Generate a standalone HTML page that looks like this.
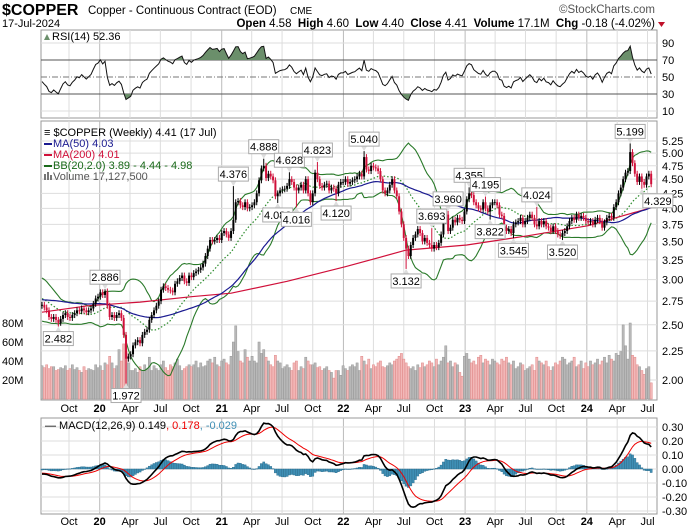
<!DOCTYPE html>
<html><head><meta charset="utf-8"><style>
body{margin:0;background:#fff;}
svg{display:block;font-family:"Liberation Sans",Arial,sans-serif;}
</style></head><body>
<svg id="c" width="700" height="530" xmlns="http://www.w3.org/2000/svg"></svg>
<script>
const preCloses=[2.80,2.78,2.72,2.70,2.65,2.62,2.67,2.70,2.75,2.78,2.80,2.77,2.80,2.78,2.75,2.72,2.76,2.74,2.70,2.68,2.65,2.63,2.66,2.70,2.78,2.85,2.90,2.92,2.95,2.93,2.90,2.92,2.95,2.98,2.95,2.92,2.90,2.88,2.85,2.75,2.72,2.68,2.65,2.68,2.66,2.62,2.65,2.68,2.72,2.70];
const closes=[2.71,2.68,2.65,2.58,2.56,2.58,2.55,2.52,2.56,2.60,2.62,2.58,
2.57,2.60,2.62,2.65,2.64,2.67,2.65,2.63,2.65,2.67,2.72,2.78,2.80,
2.85,2.82,2.86,2.70,2.58,2.60,2.57,2.60,2.62,2.57,2.40,2.18,2.20,
2.22,2.30,2.33,2.35,2.32,2.40,2.43,2.45,2.55,2.60,2.65,2.70,2.75,
2.88,2.92,2.90,2.88,2.87,2.85,2.95,2.98,3.02,3.05,2.98,2.96,3.05,
3.03,3.08,3.10,3.12,3.15,3.20,3.30,3.40,3.52,3.50,3.52,3.55,3.52,
3.62,3.65,3.60,3.55,3.65,3.82,4.10,4.12,4.05,4.02,4.10,4.00,4.02,
4.05,4.10,4.25,4.48,4.70,4.75,4.52,4.60,4.55,4.48,4.20,4.25,4.30,
4.32,4.33,4.38,4.50,4.45,4.35,4.30,4.35,4.40,4.30,4.50,4.25,4.10,
4.25,4.62,4.50,4.38,4.35,4.40,4.42,4.30,4.35,4.33,4.25,4.40,4.45,
4.45,4.50,4.42,4.45,4.48,4.50,4.55,4.60,4.55,4.92,4.68,4.65,4.75,
4.72,4.70,4.65,4.50,4.30,4.25,4.30,4.40,4.50,4.30,4.20,3.95,3.75,
3.55,3.40,3.30,3.45,3.55,3.60,3.68,3.62,3.50,3.55,3.48,3.45,3.40,
3.45,3.42,3.48,3.60,3.80,3.90,3.65,3.70,3.82,3.78,3.85,3.82,3.80,
3.95,4.15,4.25,4.22,4.10,4.05,4.00,3.98,4.10,4.00,3.95,4.05,4.10,
4.10,4.05,3.90,3.88,3.70,3.65,3.68,3.62,3.75,3.78,3.80,3.85,3.75,
3.80,3.85,3.90,3.85,3.75,3.72,3.80,3.75,3.80,3.72,3.70,3.65,3.72,
3.65,3.60,3.58,3.62,3.65,3.72,3.80,3.85,3.82,3.90,3.85,3.88,3.85,
3.80,3.78,3.80,3.75,3.82,3.85,3.80,3.70,3.78,3.85,3.88,3.85,4.02,
4.10,4.25,4.35,4.50,4.62,4.65,5.02,4.80,4.60,4.45,4.55,4.45,4.40,
4.55,4.60,4.41];
const volumes=[35,33,36,32,34,34,30,31,33,32,35,30,
32,36,31,33,30,28,34,30,32,31,30,36,33,
35,30,38,36,45,38,32,35,52,40,58,50,38,
30,30,32,28,34,30,36,32,44,30,35,32,30,
36,40,33,30,36,34,38,42,35,30,32,34,36,
34,36,40,33,38,34,35,40,42,38,44,36,34,
40,42,38,36,45,60,77,50,40,38,52,44,40,
45,40,38,60,48,52,44,40,36,34,46,40,38,
32,34,36,33,30,38,40,30,34,32,44,40,36,
36,38,33,34,30,32,34,30,28,22,30,30,25,
35,32,30,34,36,34,38,30,45,40,36,42,32,
36,34,38,40,34,33,35,38,36,40,42,45,48,
42,38,34,32,34,30,36,33,38,34,36,40,38,
34,42,36,40,44,56,38,40,34,38,36,28,24,
45,48,42,38,40,36,44,46,38,42,40,36,42,
40,38,36,42,40,44,38,36,40,32,34,38,36,
30,32,34,36,30,44,40,38,36,40,34,30,34,
38,36,40,44,42,36,38,40,44,34,36,40,32,
38,34,40,36,38,42,36,40,44,38,46,42,40,
48,46,50,78,56,42,80,46,44,36,34,30,26,
32,34,17];
const ma200Weeks=[0,20,42,64,81,105,130,156,182,208,234,261];
const ma200Values=[2.63,2.70,2.74,2.80,2.84,2.98,3.16,3.38,3.45,3.58,3.73,4.01];
const labelWeeks=[27,7,36,82,95,106,118,101,109,126,138,156,167,174,183,190,212,192,202,223,252,257];
const labelValues=[2.886,2.482,1.972,4.376,4.888,4.628,4.823,4.088,4.016,4.120,5.040,3.132,3.693,3.960,4.355,4.195,4.024,3.822,3.545,3.520,5.199,4.329];
const labelIsHigh=[1,0,0,1,1,1,1,0,0,0,1,0,1,1,1,1,1,0,0,0,1,0];
const priceTicks=[5.25,5.00,4.75,4.50,4.25,4.00,3.75,3.50,3.25,3.00,2.75,2.50,2.25,2.00];
const volTicks=[20,40,60,80];
const rsiTicks=[90,70,50,30,10];
const macdTicks=[0.3,0.2,0.1,0,-0.1,-0.2,-0.3];

const svg=document.getElementById('c');
const NS='http://www.w3.org/2000/svg';
function mk(tag,at,parent){const e=document.createElementNS(NS,tag);for(const k in at)e.setAttribute(k,at[k]);(parent||svg).appendChild(e);return e;}
function txt(x,y,s,at,parent){const e=mk('text',Object.assign({x:x,y:y,'font-size':11,fill:'#000'},at||{}),parent);e.textContent=s;return e;}
const X0=42,DX=2.334,L=41,R=657;
const xW=i=>X0+i*DX;
const yP=p=>141+(Math.log(5.25)-Math.log(p))*247.7;
const yV=v=>399-v*0.95;
const yR=r=>43+(90-r)*0.85;
const yM=m=>469-m*140;
const N=closes.length,P=preCloses.length;
const full=preCloses.concat(closes);

function sma(arr,n,i){let s=0;for(let k=i-n+1;k<=i;k++)s+=arr[k];return s/n;}
function sd(arr,n,i,m){let s=0;for(let k=i-n+1;k<=i;k++)s+=(arr[k]-m)**2;return Math.sqrt(s/n);}
const ma50=[],mid=[],up=[],lo=[];
for(let i=0;i<N;i++){const j=i+P;ma50.push(sma(full,50,j));const m=sma(full,20,j);mid.push(m);const s=sd(full,20,j,m);up.push(m+2*s);lo.push(m-2*s);}
function ema(arr,n){const k=2/(n+1);const o=[arr[0]];for(let i=1;i<arr.length;i++)o.push(arr[i]*k+o[i-1]*(1-k));return o;}
const e12=ema(full,12),e26=ema(full,26);
const macdFull=e12.map((v,i)=>v-e26[i]);const sigFull=ema(macdFull,9);
const macd=macdFull.slice(P),sig=sigFull.slice(P);
const rsiFull=[];{let ag=0,al=0;for(let i=1;i<=14;i++){const d=full[i]-full[i-1];if(d>0)ag+=d;else al-=d;}ag/=14;al/=14;
for(let i=0;i<full.length;i++){if(i>14){const d=full[i]-full[i-1];ag=(ag*13+Math.max(d,0))/14;al=(al*13+Math.max(-d,0))/14;}rsiFull.push(i<14?50:100-100/(1+ag/(al||1e-9)));}}
const rsi=rsiFull.slice(P);

// header
const hdr=mk('g',{});
txt(2,15,'$COPPER',{'font-size':16,'font-weight':'bold'},hdr);
txt(88,14,'Copper - Continuous Contract (EOD)',{'font-size':11.5},hdr);
txt(290,14,'CME',{'font-size':10},hdr);
txt(2,27,'17-Jul-2024',{'font-size':11},hdr);
txt(655,13,'©StockCharts.com',{'font-size':11.5,fill:'#555','text-anchor':'end'},hdr);
const q=txt(655,27,'',{'font-size':11.5,'text-anchor':'end'},hdr);
[['Open ',1],['4.58  ',0],['High ',1],['4.60  ',0],['Low ',1],['4.40  ',0],['Close ',1],['4.41  ',0],['Volume ',1],['17.1M  ',0],['Chg ',1],['-0.18 (-4.02%)',0]].forEach(([s,b])=>{const t=document.createElementNS(NS,'tspan');t.textContent=s;if(b)t.setAttribute('font-weight','bold');q.appendChild(t);});
q.setAttribute('style','white-space:pre');
mk('path',{d:'M658 22 h7 l-3.5 5 z',fill:'#c0102a'},hdr);

const start=new Date(2019,6,12);
const months=[];
for(let y=2019;y<=2024;y++)for(const m of [0,3,6,9]){const d=new Date(y,m,1);const w=(d-start)/(7*864e5);if(w>=0&&w<=262)months.push({w:w,lab:m===0?String(y).slice(2):['Jan','Apr','Jul','Oct'][m/3],yr:m===0});}

function panel(y0,y1,name){const g=mk('g',{});
mk('rect',{x:L,y:y0,width:R-L,height:y1-y0,fill:'#fff',stroke:'#999','stroke-width':1},g);
months.forEach(m=>{mk('line',{x1:xW(m.w),x2:xW(m.w),y1:y0,y2:y1,stroke:m.yr?'#bbb':'#ddd','stroke-width':1},g);});return g;}
function xlabels(y,name){const g=mk('g',{});
months.forEach(m=>txt(xW(m.w),y,m.lab,{'text-anchor':'middle','font-size':11,'font-weight':m.yr?'bold':'normal'},g));}

// RSI panel
const rp=panel(30,118,'rsi-panel');
rsiTicks.forEach(t=>{const ln=mk('line',{x1:L,x2:R,y1:yR(t),y2:yR(t),stroke:(t==30||t==70)?'#555':(t==50?'#777':'#ddd'),'stroke-width':1},rp);if(t==50)ln.setAttribute('stroke-dasharray','6,2,1,2');
 txt(662,yR(t)+4,String(t),{'font-size':11},rp);});
mk('clipPath',{id:'rhi'},rp);mk('rect',{x:L,y:30,width:R-L,height:yR(70)-30},document.getElementById('rhi'));
mk('clipPath',{id:'rlo'},rp);mk('rect',{x:L,y:yR(30),width:R-L,height:118-yR(30)},document.getElementById('rlo'));
let rpts=rsi.map((v,i)=>xW(i).toFixed(1)+','+yR(v).toFixed(1)).join(' ');
mk('polygon',{points:xW(0)+','+yR(70)+' '+rpts+' '+xW(N-1)+','+yR(70),fill:'#6b8f6b','clip-path':'url(#rhi)'},rp);
mk('polygon',{points:xW(0)+','+yR(30)+' '+rpts+' '+xW(N-1)+','+yR(30),fill:'#6b8f6b','clip-path':'url(#rlo)'},rp);
const rl=mk('polyline',{points:rpts,fill:'none',stroke:'#111','stroke-width':1},rp);
mk('path',{d:'M44 40 l3 -6 l3 6 z',fill:'#6b8f6b'},rp);
txt(52,40,'RSI(14) 52.36',{'font-size':11},rp);

// main panel
const mp=panel(121,400,'price-panel');
priceTicks.forEach(t=>{mk('line',{x1:L,x2:R,y1:yP(t),y2:yP(t),stroke:'#ddd'},mp);txt(662,yP(t)+4,t.toFixed(2),{'font-size':11},mp);});
volTicks.forEach(t=>txt(2,yV(t)+4,t+'M',{'font-size':11},mp));
const vg=mk('g',{},mp);
volumes.forEach((v,i)=>{const dn=i>0?closes[i]<closes[i-1]:closes[0]<preCloses[P-1];
 const b=mk('rect',{x:xW(i)-1.1,y:yV(v),width:2.2,height:399-yV(v),fill:dn?'#f2b8b8':'#b8b8b8',stroke:dn?'#e08a8a':'#999','stroke-width':0.5},vg);
 });
function line(arr,col,w,name,dash){const pts=arr.map((v,i)=>xW(i).toFixed(1)+','+yP(v).toFixed(1)).join(' ');const e=mk('polyline',{points:pts,fill:'none',stroke:col,'stroke-width':w},mp);if(dash)e.setAttribute('stroke-dasharray',dash);}
line(up,'#2a7a2a',1.1,'bb-upper');line(lo,'#2a7a2a',1.1,'bb-lower');line(mid,'#2a8a2a',1.2,'bb-middle','1.5,2');
const m2=mk('polyline',{points:ma200Weeks.map((w,k)=>xW(w).toFixed(1)+','+yP(ma200Values[k]).toFixed(1)).join(' '),fill:'none',stroke:'#d0103a','stroke-width':1.2},mp);

line(ma50,'#1a1a90',1.2,'ma50-line');
const cg=mk('g',{},mp);
closes.forEach((c,i)=>{const o=i>0?closes[i-1]:preCloses[P-1];let h=Math.max(o,c)*1.012,l=Math.min(o,c)*0.988;
 const li=labelWeeks.indexOf(i);if(li>=0){if(labelIsHigh[li])h=labelValues[li];else l=labelValues[li];}
 const col=c<o?'#d0103a':'#000';const x=xW(i);
 const k=mk('g',{},cg);
 mk('line',{x1:x,x2:x,y1:yP(h),y2:yP(l),stroke:col,'stroke-width':1},k);
 const yt=yP(Math.max(o,c)),yb=yP(Math.min(o,c));
 mk('rect',{x:x-1,y:yt,width:2,height:Math.max(yb-yt,0.8),fill:col},k);});
labelWeeks.forEach((w,k)=>{const v=labelValues[k],hi=labelIsHigh[k];let x=xW(w);const yv=yP(v);
 const g=mk('g',{},mp);
 const bw=30,bh=14;let bx=x-bw/2;if(k==labelWeeks.length-1)bx=x+1;
 const by=hi?yv-5-bh:yv+5;
 mk('path',{d:hi?`M${x-3} ${by+bh} L${x} ${yv} L${x+3} ${by+bh}z`:`M${x-3} ${by} L${x} ${yv} L${x+3} ${by}z`,fill:'#ddd'},g);
 mk('rect',{x:bx,y:by,width:bw,height:bh,fill:'#fff',stroke:'#aaa','stroke-width':1},g);
 txt(bx+bw/2,by+11,v.toFixed(3),{'text-anchor':'middle','font-size':11},g);});
const lg=mk('g',{},mp);
txt(44,136,'\u2261 $COPPER (Weekly) 4.41 (17 Jul)',{'font-size':11},lg);
[['MA(50) 4.03','#1a1a90',147],['MA(200) 4.01','#d0103a',158],['BB(20,2.0) 3.89 - 4.44 - 4.98','#1a6a1a',169]].forEach(([s,c,y])=>{mk('rect',{x:44,y:y-4,width:8,height:2,fill:c},lg);txt(53,y,s,{'font-size':11,fill:c},lg);});
mk('rect',{x:44,y:174,width:2,height:6,fill:'#777'},lg);mk('rect',{x:47,y:172,width:2,height:8,fill:'#777'},lg);mk('rect',{x:50,y:175,width:2,height:5,fill:'#777'},lg);
txt(53,180,'Volume 17,127,500',{'font-size':11,fill:'#555'},lg);
xlabels(412,'x-axis-labels-top');

const mcp=panel(418,514,'macd-panel');
macdTicks.forEach(t=>{mk('line',{x1:L,x2:R,y1:yM(t),y2:yM(t),stroke:'#ddd'},mcp);txt(662,yM(t)+4,t.toFixed(2),{'font-size':11},mcp);});
const hg=mk('g',{},mcp);
macd.forEach((v,i)=>{const h=v-sig[i];const y=Math.min(yM(h),yM(0));const b=mk('rect',{x:xW(i)-1.1,y:y,width:2.2,height:Math.max(Math.abs(yM(h)-yM(0)),0.5),fill:'#3f8fb5',stroke:'#2a6a8a','stroke-width':0.4},hg);});
const sl=mk('polyline',{points:sig.map((v,i)=>xW(i).toFixed(1)+','+yM(v).toFixed(1)).join(' '),fill:'none',stroke:'#e00','stroke-width':1},mcp);
const ml=mk('polyline',{points:macd.map((v,i)=>xW(i).toFixed(1)+','+yM(v).toFixed(1)).join(' '),fill:'none',stroke:'#000','stroke-width':1.6},mcp);
const mt=txt(45,429,'',{'font-size':11},mcp);
[['\u2014 MACD(12,26,9) 0.149','#000'],[', 0.178','#e00'],[', -0.029','#3f8fb5']].forEach(([s,c])=>{const t=document.createElementNS(NS,'tspan');t.textContent=s;t.setAttribute('fill',c);mt.appendChild(t);});
xlabels(525,'x-axis-labels-bottom');
</script>
</body></html>
